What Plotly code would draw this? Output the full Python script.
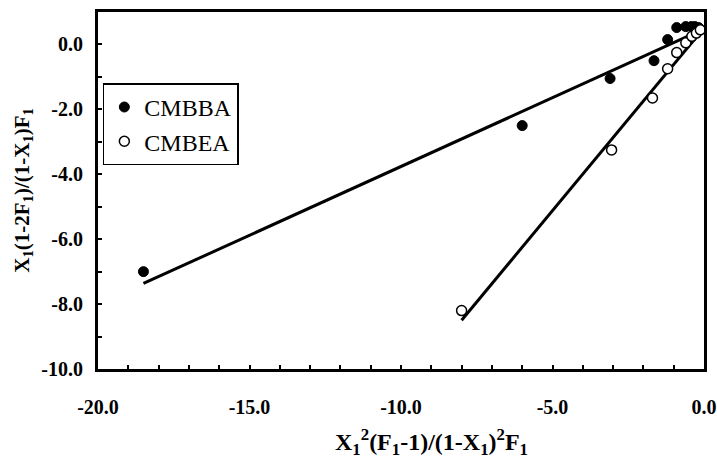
import plotly.graph_objects as go
import numpy as np

# CMBBA (filled)
cmbba_x = [-18.5, -6.0, -3.1, -1.65, -1.2, -0.9, -0.6, -0.42, -0.3, -0.18]
cmbba_y = [-7.0, -2.5, -1.05, -0.5, 0.15, 0.52, 0.55, 0.55, 0.55, 0.52]
# CMBEA (open)
cmbea_x = [-8.0, -3.05, -1.7, -1.2, -0.9, -0.6, -0.4, -0.25, -0.12]
cmbea_y = [-8.2, -3.25, -1.65, -0.75, -0.25, 0.05, 0.25, 0.35, 0.45]

# fitted lines (slope, intercept)
cmbba_fit = (0.424, 0.48)
cmbea_fit = (1.126, 0.51)

x_ticks = [-20, -15, -10, -5, 0]
x_ticktext = ["-20.0", "-15.0", "-10.0", "-5.0", "0.0"]
y_ticks = [-10, -8, -6, -4, -2, 0]
y_ticktext = ["-10.0", "-8.0", "-6.0", "-4.0", "-2.0", "0.0"]

x_title = "X<sub>1</sub><sup>2</sup>(F<sub>1</sub>-1)/(1-X<sub>1</sub>)<sup>2</sup>F<sub>1</sub>"
y_title = "X<sub>1</sub>(1-2F<sub>1</sub>)/(1-X<sub>1</sub>)F<sub>1</sub>"

font = "Liberation Serif"

fig = go.Figure()

def fit_line(xs, fit):
    lx = np.array([min(xs), 0.0])
    return lx, fit[0] * lx + fit[1]

lx, ly = fit_line(cmbba_x, cmbba_fit)
fig.add_trace(go.Scatter(x=lx, y=ly, mode="lines", line=dict(color="black", width=3),
                         showlegend=False, hoverinfo="skip"))
lx, ly = fit_line(cmbea_x, cmbea_fit)
fig.add_trace(go.Scatter(x=lx, y=ly, mode="lines", line=dict(color="black", width=3),
                         showlegend=False, hoverinfo="skip"))

fig.add_trace(go.Scatter(x=cmbba_x, y=cmbba_y, mode="markers", name="CMBBA",
                         marker=dict(symbol="circle", size=10, color="black",
                                     line=dict(color="black", width=1))))
fig.add_trace(go.Scatter(x=cmbea_x, y=cmbea_y, mode="markers", name="CMBEA",
                         marker=dict(symbol="circle", size=10, color="white",
                                     line=dict(color="black", width=1.5))))

axis_common = dict(
    ticks="inside", ticklen=4, tickwidth=1.5, tickcolor="black",
    showline=True, linewidth=3, linecolor="black", mirror=True,
    showgrid=False, zeroline=False, automargin=False,
    tickfont=dict(family=font, size=20, weight="bold"),
)

fig.update_layout(
    width=717, height=461,
    margin=dict(l=98, r=13, t=12, b=92),
    paper_bgcolor="white", plot_bgcolor="white",
    font=dict(family=font, color="black"),
    legend=dict(x=0.008, y=0.80, xanchor="left", yanchor="top",
                bordercolor="black", borderwidth=1.5, bgcolor="white",
                font=dict(family=font, size=24), tracegroupgap=0,
                itemwidth=30),
    xaxis=dict(range=[-20, 0], tickvals=x_ticks, ticktext=x_ticktext,
               ticklabelstandoff=18,
               minor=dict(dtick=1, ticks="inside", ticklen=4, tickwidth=1.5, tickcolor="black"),
               **axis_common),
    yaxis=dict(range=[-10, 1], tickvals=y_ticks, ticktext=y_ticktext,
               ticklabelstandoff=8,
               minor=dict(dtick=1, ticks="inside", ticklen=4, tickwidth=1.5, tickcolor="black"),
               **axis_common),
    annotations=[
        dict(text=x_title, xref="paper", yref="paper", x=0.551, y=-0.205,
             xanchor="center", yanchor="middle", showarrow=False,
             font=dict(family=font, size=24, weight="bold")),
        dict(text=y_title, xref="paper", yref="paper", x=-0.125, y=0.5,
             xanchor="center", yanchor="middle", showarrow=False, textangle=-90,
             font=dict(family=font, size=21, weight="bold")),
    ],
)

fig.write_html("out.html", config={"displayModeBar": False},
               post_script="document.body.style.margin='0';document.body.style.overflow='hidden';")
